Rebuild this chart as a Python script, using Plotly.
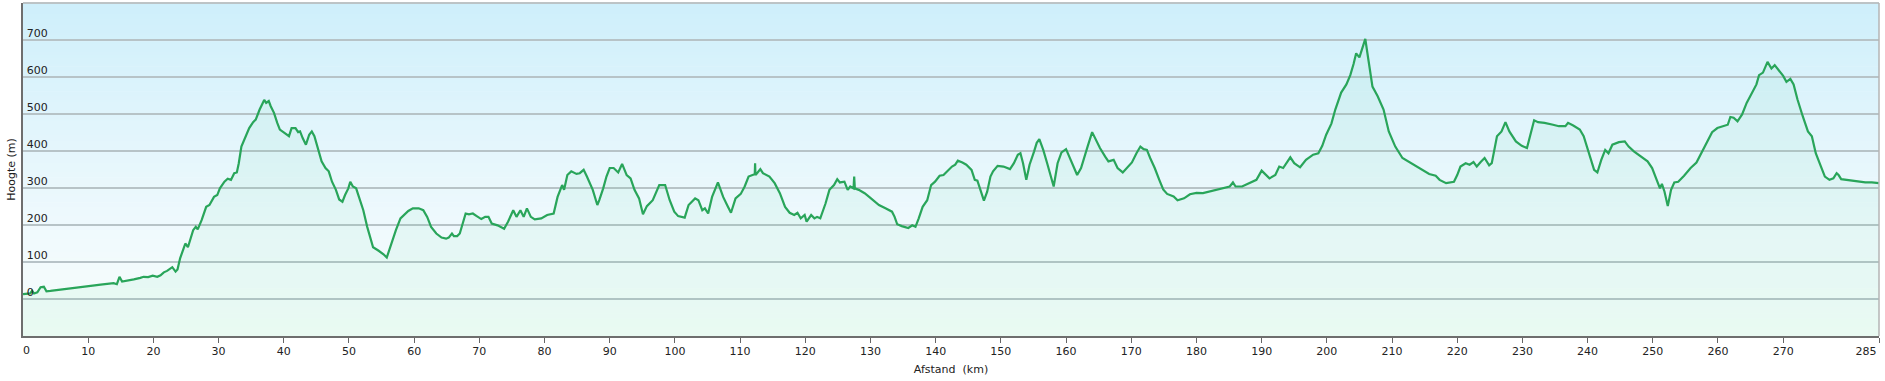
import plotly.graph_objects as go

# ---- data (distance km, elevation m) ----
KM = [0, 0.6, 1.1, 1.4, 1.7, 2.2, 2.7, 3.2, 3.6, 4.2, 5, 6, 6.7, 7.5, 8.5, 9.9, 11, 11.9, 13, 13.9,
      14.4, 14.8, 15.2, 16, 17, 18, 18.5, 19.2, 19.9, 20.6, 21.1, 21.6, 22.1, 22.9, 23.4, 23.7, 24.1,
      24.6, 24.9, 25.3, 25.8, 26.1, 26.5, 26.8, 27.4, 28.1, 28.6, 29.3, 29.8, 30.2, 30.9, 31.4, 31.9,
      32.4, 32.8, 33.1, 33.5, 34.0, 34.7, 35.3, 35.7, 36.3, 36.7, 37.0, 37.3, 37.7, 38.0, 38.5, 39.0,
      39.4, 40.1, 40.8, 41.2, 41.8, 42.2, 42.5, 42.9, 43.4, 43.9, 44.3, 44.7, 45.2, 45.8, 46.4, 46.9,
      47.4, 48.0, 48.5, 49.0, 49.4, 49.9, 50.2, 50.6, 51.1, 51.5, 52.2, 52.8, 53.3, 53.7, 54.5, 55.3,
      55.8, 56.3, 56.8, 57.2, 57.9, 58.5, 59.1, 59.8, 60.7, 61.4, 62.0, 62.6, 63.4, 64.2, 64.9, 65.3,
      65.8, 66.1, 66.6, 67.0, 67.4, 67.9, 68.4, 69.0, 69.6, 70.3, 70.9, 71.4, 71.9, 72.8, 73.8, 74.4,
      75.2, 75.7, 76.3, 76.8, 77.3, 77.9, 78.5, 79.5, 80.4, 81.4, 82.0, 82.7, 83.0, 83.5, 84.1, 84.9,
      85.4, 86.0, 86.5, 86.9, 87.4, 88.1, 88.4, 89.0, 89.5, 90.0, 90.6, 91.3, 91.9, 92.6, 93.2, 93.8,
      94.5, 95.1, 95.7, 96.6, 97.6, 98.5, 99.2, 99.9, 100.5, 101.5, 102.1, 103.1, 103.6, 104.2, 104.6,
      105.1, 105.7, 106.6, 107.4, 108.0, 108.6, 109.3, 110.1, 110.7, 111.3, 111.9, 112.25, 112.3,
      112.35, 112.6, 113.1, 113.5, 114.5, 115.3, 116.1, 116.9, 117.6, 118.3, 118.8, 119.3, 119.9,
      120.2, 120.9, 121.4, 121.8, 122.3, 123.1, 123.7, 124.4, 124.9, 125.3, 126.0, 126.5, 126.9,
      127.4, 127.5, 127.6, 128.2, 129.1, 129.8, 130.5, 131.3, 132.3, 133.3, 133.7, 134.1, 134.8,
      135.8, 136.4, 136.9, 137.4, 138.0, 138.7, 139.3, 139.9, 140.6, 141.2, 141.8, 142.5, 143.0,
      143.4, 144.1, 144.7, 145.5, 146.0, 146.4, 146.9, 147.4, 147.9, 148.4, 148.8, 149.5, 150.4,
      151.4, 152.0, 152.6, 153.0, 153.4, 153.9, 154.4, 155.1, 155.5, 155.9, 156.5, 157.1, 158.1,
      158.7, 159.3, 160.0, 160.6, 161.2, 161.7, 162.3, 162.8, 163.3, 164.0, 164.6, 165.2, 166.0,
      166.5, 167.3, 167.9, 168.7, 169.3, 170.1, 170.8, 171.4, 171.9, 172.4, 172.9, 173.6, 174.3,
      174.9, 175.5, 176.5, 177.1, 178.1, 179.0, 180.0, 181.0, 181.9, 182.9, 183.8, 185.1, 185.6,
      186.0, 187.0, 187.9, 189.2, 190.0, 190.6, 191.2, 192.1, 192.7, 193.3, 193.8, 194.4, 195.0,
      195.9, 196.8, 197.9, 198.7, 199.3, 199.9, 200.7, 201.3, 202.2, 203.0, 203.6, 204.1, 204.5,
      205.0, 205.5, 205.9, 206.4, 207.0, 207.8, 208.7, 209.5, 210.5, 211.6, 212.9, 214.5, 215.7,
      216.7, 217.3, 218.3, 219.5, 220.0, 220.5, 221.3, 221.9, 222.5, 223.0, 223.6, 224.2, 224.9,
      225.3, 226.1, 226.8, 227.4, 228.0, 229.0, 229.9, 230.7, 231.8, 232.4, 233.4, 234.7, 235.6,
      236.6, 237.0, 237.8, 238.8, 239.4, 240.2, 241.0, 241.5, 242.1, 242.7, 243.2, 243.8, 244.8,
      245.7, 246.3, 247.1, 248.2, 249.2, 249.9, 250.6, 251.1, 251.4, 251.8, 252.3, 252.8, 253.3,
      253.9, 254.8, 255.8, 256.7, 257.7, 258.3, 259.1, 259.9, 260.8, 261.5, 261.9, 262.4, 263.0,
      263.7, 264.4, 265.3, 265.9, 266.3, 266.9, 267.6, 268.2, 268.7, 269.4, 270.0, 270.5, 271.1,
      271.6, 272.2, 273.0, 273.8, 274.4, 275.0, 275.8, 276.4, 277.1, 277.7, 278.2, 278.5, 278.9,
      279.8, 280.7, 281.7, 282.6, 283.6, 284.7]

ELEV = [13, 14, 15, 22, 15, 18, 32, 33, 21, 22, 24, 26, 27, 30, 32, 36, 37, 39, 41, 43,
        40, 60, 47, 49, 53, 57, 60, 59, 63, 60, 64, 72, 76, 86, 74, 80, 110,
        135, 150, 140, 170, 186, 195, 188, 213, 249, 254, 276, 281, 299, 317, 325, 322,
        340, 342, 367, 412, 431, 462, 478, 485, 512, 530, 538, 530, 535, 521, 503, 476,
        458, 449, 440, 462, 462, 451, 453, 435, 417, 444, 453, 440, 408, 372, 354, 345,
        317, 295, 269, 263, 281, 299, 317, 304, 299, 276, 240, 195, 163, 140, 131, 121,
        112, 140, 168, 186, 218, 227, 238, 245, 245, 240, 222, 195, 177, 166, 163, 166,
        177, 170, 170, 177, 204, 231, 229, 231, 224, 216, 222, 222, 204, 199, 190, 209,
        240, 222, 240, 222, 245, 222, 215, 218, 227, 231, 276, 308, 295, 335, 345, 338,
        340, 349, 331, 313, 295, 254, 267, 299, 331, 354, 354, 342, 365, 335, 326, 295,
        272, 229, 251, 267, 308, 308, 267, 236, 224, 220, 254, 272, 267, 240, 245,
        231, 276, 315, 276, 254, 233, 272, 284, 304, 331, 335, 337, 367,
        335, 340, 351, 340, 331, 313, 286, 249, 233, 227, 233, 218, 227,
        209, 227, 218, 222, 218, 258, 295, 308, 324, 315, 317, 295, 304,
        299, 331, 299, 295, 286, 276, 265, 254, 245, 236, 222, 202, 197,
        192, 199, 195, 218, 249, 267, 308, 317, 333, 335, 345, 358, 363,
        374, 369, 363, 349, 322, 320, 295, 266, 290, 331, 345, 360, 358,
        351, 367, 390, 394, 367, 322, 363, 399, 422, 432, 403, 367, 304,
        367, 396, 405, 381, 358, 335, 354, 385, 412, 451, 430, 408, 385,
        372, 376, 354, 342, 354, 369, 394, 412, 405, 403, 381, 354, 322,
        296, 284, 277, 267, 272, 283, 287, 286, 290, 295, 299, 304, 315,
        304, 304, 311, 322, 347, 335, 326, 335, 358, 354, 369, 383, 367,
        356, 376, 390, 394, 414, 444, 474, 512, 558, 580, 605, 635, 664,
        653, 680, 703, 644, 574, 548, 512, 453, 412, 381, 367, 349, 338,
        333, 322, 313, 317, 335, 358, 367, 363, 370, 358, 370, 381, 361,
        367, 440, 453, 478, 453, 426, 414, 408, 483, 478, 476, 471, 467,
        467, 476, 469, 458, 440, 394, 349, 342, 376, 403, 394, 417, 424,
        426, 412, 399, 385, 372, 354, 322, 299, 311, 290, 251, 295, 315,
        317, 333, 354, 369, 403, 420, 451, 462, 467, 471, 492, 490, 480,
        499, 530, 562, 580, 605, 612, 641, 623, 632, 616, 603, 587, 595,
        580, 539, 494, 453, 440, 394, 358, 331, 322, 326, 340, 335, 324,
        322, 320, 317, 315, 315, 313]

Y_RANGE = [-100, 800]
Y_TICKS = [0, 100, 200, 300, 400, 500, 600, 700]
X_MAX = 284.7
# tick marks
X_TICKS = [0, 10, 20, 30, 40, 50, 60, 70, 80, 90, 100, 110, 120, 130, 140, 150, 160, 170, 180,
           190, 200, 210, 220, 230, 240, 250, 260, 270, X_MAX]
# tick label anchor positions (end labels nudged inside the plot, as in the reference)
X_LABEL_POS = [0.6, 10, 20, 30, 40, 50, 60, 70, 80, 90, 100, 110, 120, 130, 140, 150, 160, 170,
               180, 190, 200, 210, 220, 230, 240, 250, 260, 270, 282.7]
X_TICKTEXT = ["0", "10", "20", "30", "40", "50", "60", "70", "80", "90", "100", "110", "120",
              "130", "140", "150", "160", "170", "180", "190", "200", "210", "220", "230", "240",
              "250", "260", "270", "285"]

FONT = "DejaVu Sans"
TXT = "#222222"

fig = go.Figure()
fig.add_trace(go.Scatter(x=KM, y=[Y_RANGE[0]] * len(KM), mode="lines",
                         line=dict(width=0, color="rgba(0,0,0,0)"),
                         hoverinfo="skip", showlegend=False))
fig.add_trace(go.Scatter(x=KM, y=ELEV, mode="lines", fill="tonexty",
                         fillcolor="rgba(70,215,140,0.07)",
                         line=dict(color="#29a55a", width=2.2),
                         showlegend=False))
# invisible carrier trace so that the label axis (x2) is drawn
fig.add_trace(go.Scatter(x=KM, y=ELEV, xaxis="x2", yaxis="y", mode="lines",
                         line=dict(width=0, color="rgba(0,0,0,0)"),
                         hoverinfo="skip", showlegend=False))

# vertical background gradient (light blue at top -> near white / mint at bottom)
stops = [(0.0, (206, 239, 251)), (0.45, (229, 246, 252)), (0.72, (241, 250, 253)),
         (1.0, (246, 253, 250))]


def col(t):
    for (t0, c0), (t1, c1) in zip(stops[:-1], stops[1:]):
        if t0 <= t <= t1:
            f = (t - t0) / (t1 - t0)
            return "rgb(%d,%d,%d)" % tuple(round(a + (b - a) * f) for a, b in zip(c0, c1))
    return "rgb(%d,%d,%d)" % stops[-1][1]


shapes = []
N = 120
for i in range(N):
    t = (i + 0.5) / N
    shapes.append(dict(type="rect", xref="paper", yref="paper", x0=0, x1=1,
                       y0=1 - (i + 1) / N, y1=1 - i / N + 0.002, layer="below",
                       line=dict(width=0), fillcolor=col(t)))
# light top / right border
shapes.append(dict(type="line", xref="paper", yref="paper", x0=0, x1=1, y0=1, y1=1,
                   line=dict(color="#b4b4b4", width=1.5), layer="above"))
shapes.append(dict(type="line", xref="paper", yref="paper", x0=1, x1=1, y0=0, y1=1,
                   line=dict(color="#b4b4b4", width=1.5), layer="above"))

# Plotly suppresses the first x tick label next to the inside y labels,
# so the "0" label is written as an annotation at that label position.
annotations = [dict(x=X_LABEL_POS[0], xref="x", y=0, yref="paper", text=X_TICKTEXT[0],
                    showarrow=False, xanchor="center", yanchor="middle", yshift=-14.5,
                    font=dict(family=FONT, size=11, color=TXT))]

fig.update_layout(
    width=1885, height=381,
    margin=dict(l=23, r=6, t=3, b=45),
    paper_bgcolor="white", plot_bgcolor="rgba(0,0,0,0)",
    font=dict(family=FONT, size=11, color=TXT),
    shapes=shapes,
    annotations=annotations,
    showlegend=False,
    xaxis=dict(range=[0, X_MAX], tickvals=X_TICKS, showticklabels=False,
               ticks="outside", ticklen=5, tickcolor="#666666", tickwidth=1,
               showline=True, linecolor="#6e6e6e", linewidth=2,
               showgrid=False, zeroline=False, automargin=False,
               title=dict(text="Afstand\u00a0 (km)", standoff=23,
                          font=dict(family=FONT, size=11, color=TXT))),
    xaxis2=dict(range=[0, X_MAX], overlaying="x", anchor="free", position=0, side="bottom",
                tickvals=X_LABEL_POS[1:], ticktext=X_TICKTEXT[1:],
                ticks="outside", ticklen=5, tickcolor="rgba(0,0,0,0)",
                ticklabeloverflow="allow",
                showline=False, showgrid=False, zeroline=False, automargin=False,
                tickfont=dict(family=FONT, size=11, color=TXT)),
    yaxis=dict(range=Y_RANGE, tickvals=Y_TICKS, ticks="",
               ticklabelposition="inside", ticklabelshift=-7, ticklabelstandoff=3,
               showline=True, linecolor="#6e6e6e", linewidth=2,
               showgrid=True, gridcolor="#b7c3c7", gridwidth=1.5, zeroline=False,
               automargin=False,
               tickfont=dict(family=FONT, size=11, color=TXT),
               title=dict(text="Hoogte (m)", standoff=9,
                          font=dict(family=FONT, size=11, color=TXT))),
)

fig.write_html("out.html", config={"displayModeBar": False},
               post_script="document.body.style.margin='0';")
